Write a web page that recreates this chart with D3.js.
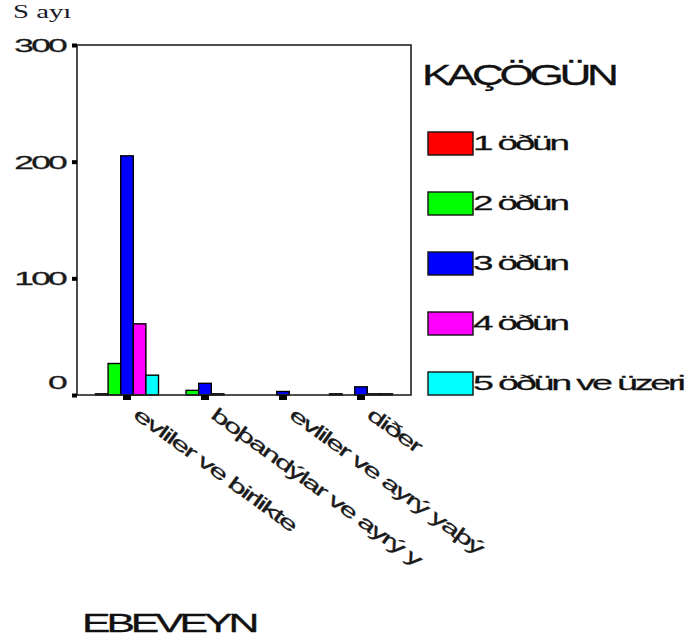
<!DOCTYPE html>
<html><head><meta charset="utf-8">
<script src="https://cdn.jsdelivr.net/npm/d3@7"></script>
<style>body{margin:0;background:#fff}svg{display:block}</style>
</head><body>
<svg id="c" width="688" height="642"></svg>
<script>
const categories = ["evliler ve birlikte", "boþandýlar ve ayrý y", "evliler ve ayrý yaþý", "diðer"];
const series = ["1 öðün", "2 öðün", "3 öðün", "4 öðün", "5 öðün ve üzeri"];
const colors = ["#ff0000", "#00ff00", "#0000ff", "#ff00ff", "#00ffff"];
const v_evliBirlikte = [1, 27, 205, 61, 17];
const v_bosandilar = [0, 4, 10, 1, 0];
const v_evliAyri = [0, 0, 3, 0, 0];
const v_diger = [1, 0, 7, 1, 1];
const yTicks = [0, 100, 200, 300];
const yTitle = "S ayı";
const xTitle = "EBEVEYN";
const legendTitle = "KAÇÖGÜN";

const table = [v_evliBirlikte, v_bosandilar, v_evliAyri, v_diger];
const svg = d3.select("#c");
const L = 77, R = 411, T = 45, B = 395;
const SANS = "Liberation Sans, Arial, sans-serif";

const x0 = d3.scaleBand().domain(categories).range([L, R]).paddingInner(0).paddingOuter(0.141);
const x1 = d3.scaleBand().domain(series).range([-31.5, 31.5]);
const y = d3.scaleLinear().domain([0, 300]).range([B, T]);

// wide, tightly set glyphs: keep overall width = f * natural width
function wide(sel, pre, f, ls) {
  sel.each(function (d) {
    const t = d3.select(this);
    const w0 = this.getComputedTextLength();
    t.attr("letter-spacing", ls);
    const w1 = this.getComputedTextLength();
    const s = f * w0 / w1;
    t.attr("transform", (typeof pre === "function" ? pre(d) : pre) + ` scale(${s},1)`);
  });
}

// bars
const data = [];
categories.forEach((c, i) => series.forEach((s, j) => {
  if (table[i][j] > 0) data.push({ c, s, j, v: table[i][j] });
}));
svg.append("g").selectAll("rect").data(data).join("rect")
  .attr("x", d => x0(d.c) + x0.bandwidth() / 2 + x1(d.s))
  .attr("y", d => y(d.v))
  .attr("width", x1.bandwidth())
  .attr("height", d => B - y(d.v))
  .attr("fill", d => colors[d.j])
  .attr("stroke", "#000").attr("stroke-width", 1.4);

// frame
svg.append("rect").attr("x", L).attr("y", T).attr("width", R - L).attr("height", B - T)
  .attr("fill", "none").attr("stroke", "#222").attr("stroke-width", 1.6);

// y axis
const yAxis = d3.axisLeft(y).tickValues(yTicks).tickSize(0).tickPadding(0);
const gy = svg.append("g").attr("transform", `translate(${L},0)`).call(yAxis);
gy.select(".domain").remove();
gy.selectAll(".tick").append("rect").attr("x", -5).attr("y", -2).attr("width", 5).attr("height", 4).attr("fill", "#000");
gy.selectAll(".tick text")
  .attr("x", 0)
  .attr("font-family", SANS).attr("font-size", 19)
  .attr("fill", "#1a1a1a").attr("stroke", "#1a1a1a").attr("stroke-width", 0.3)
  .attr("dy", "0.35em")
  .call(wide, d => `translate(-12,${d === 0 ? -13 : 0})`, 1.6, -1.5);

// x axis
const xAxis = d3.axisBottom(x0).tickSize(0).tickFormat("");
const gx = svg.append("g").attr("transform", `translate(0,${B})`).call(xAxis);
gx.select(".domain").remove();
gx.selectAll(".tick").append("rect").attr("x", -4).attr("y", 0).attr("width", 8).attr("height", 5).attr("fill", "#000");
gx.selectAll(".tick").append("text")
  .text(d => d)
  .attr("text-anchor", "start").attr("dominant-baseline", "hanging")
  .attr("font-family", SANS).attr("font-size", 19)
  .attr("fill", "#1a1a1a").attr("stroke", "#1a1a1a").attr("stroke-width", 0.25)
  .call(wide, "translate(13,11) rotate(36)", 1.45, -1.2);

// titles
svg.append("text").text(yTitle)
  .attr("font-family", "Liberation Serif, Times New Roman, serif").attr("font-size", 18)
  .attr("fill", "#1a1a2a")
  .call(wide, "translate(13,18)", 1.6, 0);
svg.append("text").text(xTitle)
  .attr("font-family", SANS).attr("font-size", 26)
  .attr("fill", "#111").attr("stroke", "#111").attr("stroke-width", 0.3)
  .call(wide, "translate(82,632)", 1.41, -2.5);
svg.append("text").text(legendTitle)
  .attr("font-family", SANS).attr("font-size", 30)
  .attr("fill", "#111").attr("stroke", "#111").attr("stroke-width", 0.3)
  .call(wide, "translate(422,85)", 1.27, -3);

// legend
const ly = d3.scaleBand().domain(series).range([113.5, 413.5]);
const lg = svg.append("g").selectAll("g").data(series).join("g")
  .attr("transform", d => `translate(428,${ly(d) + ly.bandwidth() / 2})`);
lg.append("rect").attr("x", 0).attr("y", -11.5).attr("width", 45).attr("height", 23)
  .attr("fill", (d, i) => colors[i]).attr("stroke", "#111").attr("stroke-width", 1.4);
lg.append("text").text(d => d).attr("dy", "0.3em")
  .attr("font-family", SANS).attr("font-size", 21)
  .attr("fill", "#111").attr("stroke", "#111").attr("stroke-width", 0.25)
  .call(wide, "translate(45,0)", 1.46, -1.8);
</script>
</body></html>
